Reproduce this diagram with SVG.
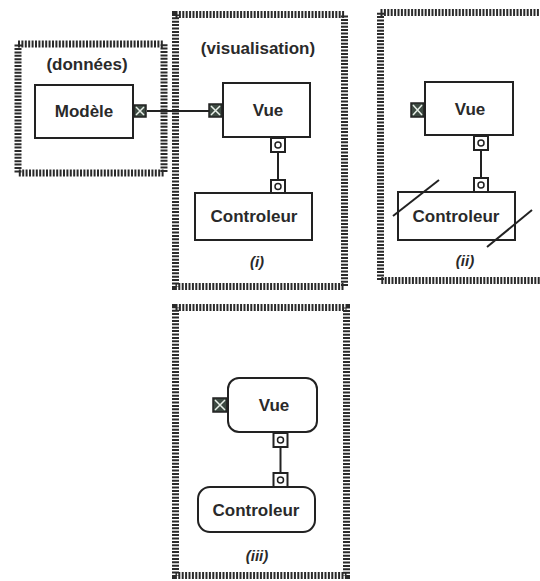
<svg xmlns="http://www.w3.org/2000/svg" width="540" height="581" viewBox="0 0 540 581">
<style>
.frame{fill:none;stroke:#2a2a2a;stroke-width:7;stroke-dasharray:2 1.4}
.box{fill:#fff;stroke:#222;stroke-width:2}
.t{font-family:"Liberation Sans",Arial,sans-serif;font-weight:bold;font-size:17px;fill:#2a2a2a;text-anchor:middle}
.cap{font-family:"Liberation Sans",Arial,sans-serif;font-weight:bold;font-style:italic;font-size:15px;fill:#2a2a2a;text-anchor:middle}
.xp{fill:#3d4a42;stroke:#222;stroke-width:1.5}
.xl{stroke:#e8efe8;stroke-width:1.5}
.op{fill:#fff;stroke:#222;stroke-width:2}
.oc{fill:none;stroke:#222;stroke-width:1.5}
.ln{stroke:#222;stroke-width:2;fill:none}
</style>
<rect width="540" height="581" fill="#fff"/>
<g id="frame-donnees">
<rect class="frame" x="18" y="44" width="146" height="129"/>
<text class="t" x="87" y="70">(données)</text>
</g>
<g id="frame-visualisation">
<rect class="frame" x="175.5" y="14.5" width="169" height="272"/>
<text class="t" x="258" y="54">(visualisation)</text>
<text class="cap" x="257" y="267">(i)</text>
</g>
<g id="frame-ii">
<rect class="frame" x="380.5" y="12.5" width="170" height="268"/>
<text class="cap" x="465" y="266">(ii)</text>
</g>
<g id="frame-iii">
<rect class="frame" x="175.5" y="307.5" width="171" height="268"/>
<text class="cap" x="257" y="561">(iii)</text>
</g>
<g id="connectors">
<line class="ln" x1="147" y1="111" x2="209" y2="111"/>
<line class="ln" x1="278" y1="152" x2="278" y2="180"/>
<line class="ln" x1="481" y1="150" x2="481" y2="178"/>
<line class="ln" x1="280.5" y1="447" x2="280.5" y2="473"/>
</g>
<g id="modele">
<rect class="box" x="35" y="85" width="98" height="53"/>
<text class="t" x="84" y="117">Modèle</text>
<rect class="xp" x="134" y="105" width="12" height="12"/>
<path class="xl" d="M136 107L144 115M144 107L136 115"/>
</g>
<g id="vue-i">
<rect class="box" x="223" y="83" width="87" height="54"/>
<text class="t" x="268" y="116">Vue</text>
<rect class="xp" x="209" y="104" width="13" height="13"/>
<path class="xl" d="M211 106L220 115M220 106L211 115"/>
<rect class="op" x="271" y="138" width="14" height="14"/>
<circle class="oc" cx="278" cy="145" r="3"/>
</g>
<g id="controleur-i">
<rect class="box" x="195" y="193" width="117" height="47"/>
<text class="t" x="254" y="222">Controleur</text>
<rect class="op" x="271" y="180" width="14" height="13"/>
<circle class="oc" cx="278" cy="186.5" r="3"/>
</g>
<g id="vue-ii">
<rect class="box" x="425" y="82" width="88" height="53"/>
<text class="t" x="470" y="115">Vue</text>
<rect class="xp" x="411" y="103" width="13" height="14"/>
<path class="xl" d="M413 105L422 115M422 105L413 115"/>
<rect class="op" x="474" y="136" width="14" height="14"/>
<circle class="oc" cx="481" cy="143" r="3"/>
</g>
<g id="controleur-ii">
<rect class="box" x="398" y="192" width="117" height="48"/>
<text class="t" x="456" y="222">Controleur</text>
<rect class="op" x="474" y="178" width="14" height="14"/>
<circle class="oc" cx="481" cy="185" r="3"/>
<line class="ln" x1="393" y1="216" x2="439" y2="180"/>
<line class="ln" x1="487" y1="247" x2="532" y2="210"/>
</g>
<g id="vue-iii">
<rect class="box" x="228" y="378" width="89" height="54" rx="11"/>
<text class="t" x="274" y="411">Vue</text>
<rect class="xp" x="213" y="398" width="14" height="14"/>
<path class="xl" d="M215 400L225 410M225 400L215 410"/>
<rect class="op" x="273.5" y="433" width="14" height="14"/>
<circle class="oc" cx="280.5" cy="440" r="3"/>
</g>
<g id="controleur-iii">
<rect class="box" x="198" y="487" width="117" height="45" rx="12"/>
<text class="t" x="256" y="516">Controleur</text>
<rect class="op" x="273.5" y="473" width="14" height="14"/>
<circle class="oc" cx="280.5" cy="480" r="3"/>
</g>
</svg>
